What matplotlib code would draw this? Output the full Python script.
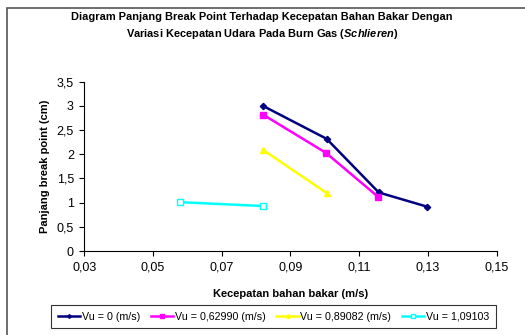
import matplotlib.pyplot as plt
from matplotlib.patches import Rectangle
from matplotlib.ticker import FuncFormatter

plt.rcParams['font.family'] = ['Liberation Sans', 'DejaVu Sans']
plt.rcParams['mathtext.fontset'] = 'custom'
plt.rcParams['mathtext.it'] = 'Liberation Sans:italic:bold'
plt.rcParams['mathtext.rm'] = 'Liberation Sans:bold'

# data
x_vu0 = [0.082, 0.1005, 0.1157, 0.1296]
y_vu0 = [3.0, 2.32, 1.21, 0.92]
x_vu1 = [0.082, 0.1003, 0.1155]
y_vu1 = [2.82, 2.03, 1.12]
x_vu2 = [0.082, 0.1005]
y_vu2 = [2.09, 1.20]
x_vu3 = [0.0578, 0.082]
y_vu3 = [1.01, 0.93]

labels = ['Vu = 0 (m/s)', 'Vu = 0,62990 (m/s)', 'Vu = 0,89082 (m/s)', 'Vu = 1,09103']
x_ticks = [0.03, 0.05, 0.07, 0.09, 0.11, 0.13, 0.15]
y_ticks = [0, 0.5, 1, 1.5, 2, 2.5, 3, 3.5]

fig = plt.figure(figsize=(5.25, 3.35), dpi=100)
ax = fig.add_axes([0.1606, 0.2507, 0.7854, 0.5054])

ax.plot(x_vu0, y_vu0, color='#000080', lw=1.8, marker='D', ms=3.2, label=labels[0])
ax.plot(x_vu1, y_vu1, color='#FF00FF', lw=1.8, marker='s', ms=3.8, label=labels[1])
ax.plot(x_vu2, y_vu2, color='#FFFF00', lw=1.8, marker='^', ms=4.2, label=labels[2])
ax.plot(x_vu3, y_vu3, color='#00FFFF', lw=1.8, marker='s', ms=3.8,
        markerfacecolor='white', label=labels[3])

ax.set_xlim(0.03, 0.15)
ax.set_ylim(0, 3.5)
ax.set_xticks(x_ticks)
ax.set_yticks(y_ticks)
ax.xaxis.set_major_formatter(FuncFormatter(lambda v, p: ('%.2f' % v).replace('.', ',')))
ax.yaxis.set_major_formatter(FuncFormatter(lambda v, p: ('%g' % v).replace('.', ',')))
ax.tick_params(labelsize=9, length=3.5, width=0.8, direction='out', pad=4)

for s in ['top', 'right']:
    ax.spines[s].set_visible(False)
for s in ['left', 'bottom']:
    ax.spines[s].set_color('black')
    ax.spines[s].set_linewidth(0.8)

ax.set_xlabel('Kecepatan bahan bakar (m/s)', fontsize=8, fontweight='bold', labelpad=11)
ax.set_ylabel('Panjang break point (cm)', fontsize=8, fontweight='bold', labelpad=5)

fig.text(0.499, 0.949, 'Diagram Panjang Break Point Terhadap Kecepatan Bahan Bakar Dengan',
         ha='center', va='center', fontsize=7.9, fontweight='bold')
fig.text(0.499, 0.898, 'Variasi Kecepatan Udara Pada Burn Gas $\\it{(Schlieren)}$',
         ha='center', va='center', fontsize=7.9, fontweight='bold')

# outer chart frame (cropped on right/bottom)
fig.patches.append(Rectangle((7 / 525, -0.1), 1.2, 1 - 8 / 335 + 0.1,
                             transform=fig.transFigure, fill=False,
                             edgecolor='#555555', lw=1.2))

leg = fig.legend(loc='center', bbox_to_anchor=(0.521, 0.0545), ncol=4, fontsize=7.7,
                 frameon=True, fancybox=False, edgecolor='black', handlelength=2.1,
                 handletextpad=0.15, columnspacing=1.0, borderpad=0.6, markerscale=0.6)
leg.get_frame().set_linewidth(0.8)

fig.savefig('out.png', dpi=100)
